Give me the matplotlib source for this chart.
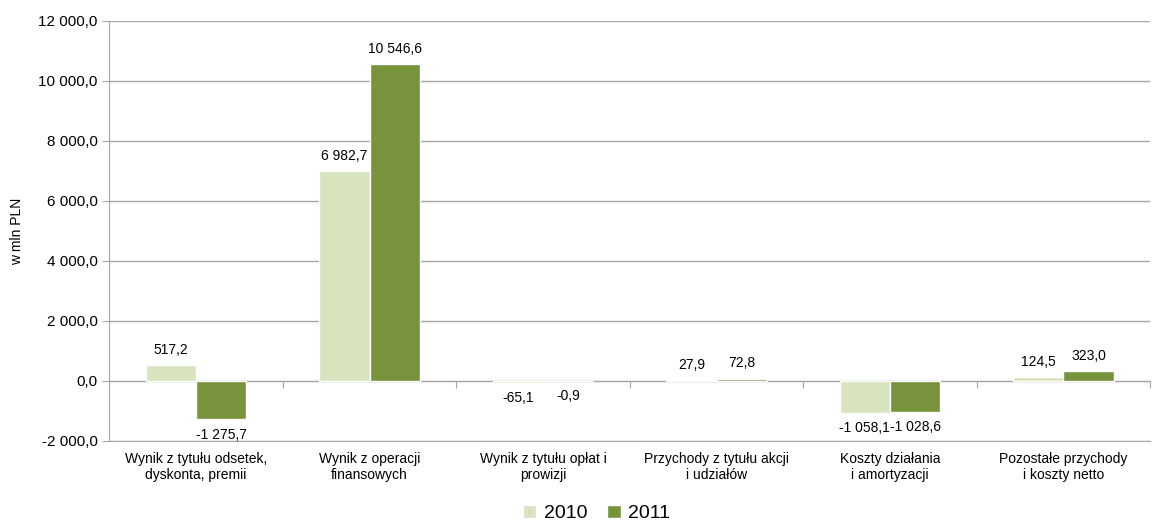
import numpy as np
import matplotlib.pyplot as plt

plt.rcParams['font.family'] = ['Liberation Sans', 'DejaVu Sans']

kategorie = ["Wynik z tytułu odsetek,\ndyskonta, premii",
             "Wynik z operacji\nfinansowych",
             "Wynik z tytułu opłat i\nprowizji",
             "Przychody z tytułu akcji\ni udziałów",
             "Koszty działania\ni amortyzacji",
             "Pozostałe przychody\ni koszty netto"]
wartosci_2010 = [517.2, 6982.7, -65.1, 27.9, -1058.1, 124.5]
wartosci_2011 = [-1275.7, 10546.6, -0.9, 72.8, -1028.6, 323.0]
lata = ["2010", "2011"]
boje = ["#d7e4bd", "#77933c"]
szare = "#a6a6a6"


def fmt(v):
    s = f"{abs(v):,.1f}".replace(",", " ").replace(".", ",")
    return ("-" if v < 0 else "") + s


fig = plt.figure(figsize=(11.63, 5.2), dpi=100)
ax = fig.add_axes([0.094, 0.152, 0.895, 0.808])

x = np.arange(len(kategorie))
w = 0.29
for i, (vals, col, lab) in enumerate(zip([wartosci_2010, wartosci_2011], boje, lata)):
    pos = x + (i - 0.5) * w
    ax.bar(pos, vals, width=w, color=col, edgecolor="white", linewidth=1, label=lab, zorder=3)
    for px, v in zip(pos, vals):
        if v >= 0:
            ax.annotate(fmt(v), (px, v), xytext=(0, 6), textcoords="offset points",
                        ha="center", va="bottom", fontsize=10)
        else:
            ax.annotate(fmt(v), (px, v), xytext=(0, -6), textcoords="offset points",
                        ha="center", va="top", fontsize=10)

ymin, ymax = -2000, 12000
ax.set_ylim(ymin, ymax)
ax.set_xlim(-0.5, len(kategorie) - 0.5)
ax.set_yticks(np.arange(ymin, ymax + 1, 2000))
ax.set_yticklabels([fmt(t) for t in np.arange(ymin, ymax + 1, 2000)], fontsize=11)
ax.yaxis.grid(True, color=szare, linewidth=1, zorder=0)
ax.set_axisbelow(True)

ax.set_xticks(x)
ax.set_xticklabels(kategorie, fontsize=10)
ax.tick_params(axis="x", length=0, pad=8)
ax.tick_params(axis="y", length=5, color=szare)

for s in ["top", "right"]:
    ax.spines[s].set_visible(False)
ax.spines["left"].set_color(szare)
ax.spines["bottom"].set_color(szare)

# os zerowa z kreskami na granicach kategorii
zero_loc = (0 - ymin) / (ymax - ymin)
sec = ax.secondary_xaxis(zero_loc)
sec.set_xticks(np.arange(-0.5, len(kategorie), 1.0))
sec.set_xticklabels([])
sec.tick_params(axis="x", direction="out", length=5, color=szare)
sec.spines["bottom"].set_color(szare)
sec.spines["bottom"].set_zorder(4)

ax.set_ylabel("w mln PLN", fontsize=10, labelpad=10)

fig.legend(loc="lower center", bbox_to_anchor=(0.513, -0.038), ncol=2, frameon=False,
           fontsize=14, handlelength=0.7, handleheight=0.7, handletextpad=0.4, columnspacing=1.0)

fig.savefig("out.png", dpi=100)
